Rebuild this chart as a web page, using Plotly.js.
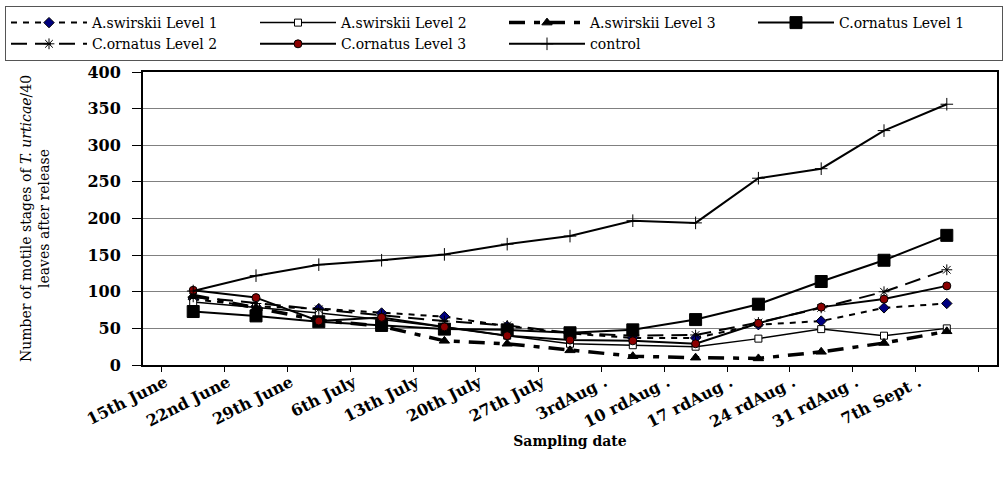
<!DOCTYPE html>
<html>
<head>
<meta charset="utf-8">
<script src="https://cdn.plot.ly/plotly-3.0.1.min.js"></script>
<style>html,body{margin:0;padding:0;background:#fff;}#chart{width:1003px;height:477px;}</style>
</head>
<body>
<div id="chart"></div>
<script>
const dates = ["15th June","22nd June","29th June","6th July","13th July","20th July","27th July","3rdAug .","10 rdAug .","17 rdAug .","24 rdAug .","31 rdAug .","7th Sept ."];
const swirskiiL1 = [90, 80, 77, 71, 66, 53, 43, 37, 37, 55, 60, 78, 84];
const swirskiiL2 = [86, 79, 71, 62, 52, 40, 29, 27, 25, 36, 49, 40, 50];
const swirskiiL3 = [95, 78, 61, 53, 33, 29, 20, 12, 10, 9, 18, 30, 46];
const ornatusL1 = [73, 67, 59, 54, 49, 48, 44, 48, 62, 83, 114, 143, 177];
const ornatusL2 = [93, 84, 76, 68, 60, 54, 44, 40, 41, 58, 78, 100, 130];
const ornatusL3 = [102, 92, 60, 65, 52, 40, 34, 33, 29, 57, 79, 90, 108];
const control = [101, 122, 137, 143, 151, 165, 176, 197, 194, 255, 268, 320, 356];

const SERIF = '"DejaVu Serif", serif';

const traces = [
  {name:'A.swirskii Level 1', y:swirskiiL1, line:{color:'#000', width:2, dash:'6px,6px'},
   marker:{symbol:'diamond', size:8, color:'#000080', line:{color:'#000', width:1}}},
  {name:'A.swirskii Level 2', y:swirskiiL2, line:{color:'#000', width:1.5},
   marker:{symbol:'square', size:7, color:'#fff', line:{color:'#000', width:1}}},
  {name:'A.swirskii Level 3', y:swirskiiL3, line:{color:'#000', width:3.5, dash:'16px,9px,6px,9px'},
   marker:{symbol:'triangle-up', size:9, color:'#000', line:{color:'#000', width:1}}},
  {name:'C.ornatus Level 1', y:ornatusL1, line:{color:'#000', width:2},
   marker:{symbol:'square', size:12, color:'#000', line:{color:'#000', width:1}}},
  {name:'C.ornatus Level 2', y:ornatusL2, line:{color:'#000', width:2, dash:'16px,8px'},
   marker:{symbol:'asterisk-open', size:9, color:'#000', line:{color:'#000', width:1}}},
  {name:'C.ornatus Level 3', y:ornatusL3, line:{color:'#000', width:2},
   marker:{symbol:'circle', size:8, color:'#8B0000', line:{color:'#000', width:1}}},
  {name:'control', y:control, line:{color:'#000', width:2},
   marker:{symbol:'cross-thin-open', size:9, color:'#000', line:{color:'#000', width:1}}}
].map(t => Object.assign({type:'scatter', mode:'lines+markers', x:dates}, t));

const layout = {
  width:1003, height:477,
  margin:{l:142, r:6, t:72, b:112},
  paper_bgcolor:'#fff', plot_bgcolor:'#fff',
  font:{family:SERIF, color:'#000'},
  showlegend:true,
  legend:{orientation:'h', xref:'paper', yref:'paper', x:-0.1602, y:1.2252, xanchor:'left', yanchor:'top',
    bordercolor:'#555', borderwidth:1, bgcolor:'#fff', font:{family:SERIF, size:14, color:'#000'},
    entrywidthmode:'pixels', entrywidth:158, itemwidth:76, tracegroupgap:0, traceorder:'normal'},
  xaxis:{type:'category', tickson:'boundaries', ticks:'outside', ticklen:5, tickcolor:'#000', tickwidth:1,
    showgrid:false, showline:true, linecolor:'#000', linewidth:2, mirror:true,
    tickangle:-27, ticklabelshift:-28,
    tickfont:{family:SERIF, size:16, color:'#000', weight:'bold'},
    title:{text:'<b>Sampling date</b>', font:{family:SERIF, size:14, color:'#000'}, standoff:6}},
  yaxis:{range:[0,400], dtick:50, ticks:'outside', ticklen:9, tickcolor:'#000', tickwidth:1,
    showgrid:true, gridcolor:'#808080', gridwidth:1, zeroline:false,
    showline:true, linecolor:'#000', linewidth:2, mirror:true, ticklabelstandoff:8,
    tickfont:{family:SERIF, size:16, color:'#000', weight:'bold'},
    title:{text:'Number of motile stages of <i>T. urticae</i>/40<br>leaves after release',
      font:{family:SERIF, size:14, color:'#000'}, standoff:34}}
};

Plotly.newPlot('chart', traces, layout, {displayModeBar:false, staticPlot:true});
</script>
</body>
</html>
